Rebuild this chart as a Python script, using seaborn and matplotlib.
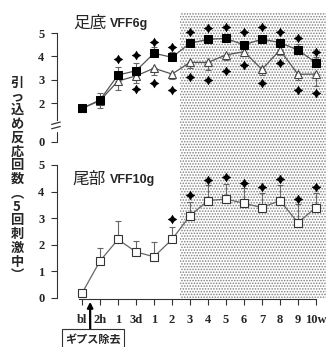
import numpy as np
import pandas as pd
import matplotlib
matplotlib.use("Agg")
import matplotlib.pyplot as plt
from matplotlib.path import Path
import seaborn as sns

# ---------------- data ----------------
labels = ['bl', '2h', '1', '3d', '1', '2', '3', '4', '5', '6', '7', '8', '9', '10w']

# upper panel (hind paw, VFF6g)
paw_sq = [1.77, 2.13, 3.20, 3.38, 4.13, 3.96, 4.56, 4.73, 4.77, 4.49, 4.74, 4.59, 4.27, 3.73]
paw_sq_err = [0.0, 0.28, 0.36, 0.32, 0.28, 0.24, 0.20, 0.15, 0.12, 0.15, 0.15, 0.15, 0.26, 0.25]
paw_tri = [1.77, 2.10, 2.94, 3.16, 3.49, 3.24, 3.74, 3.74, 4.06, 4.20, 3.44, 4.27, 3.23, 3.24]
paw_tri_err = [0.0, 0.30, 0.38, 0.31, 0.29, 0.21, 0.26, 0.33, 0.21, 0.20, 0.25, 0.20, 0.25, 0.50]
paw_star_up = [np.nan, np.nan, 3.89, 4.06, 4.63, 4.41, 5.06, 5.20, 5.27, 5.06, 5.24, 5.06, 4.77, 4.20]
paw_star_dn = [np.nan, np.nan, np.nan, 2.60, 2.87, 2.56, 3.13, 2.99, 3.38, 3.63, 2.84, 3.70, 2.56, 2.44]

# lower panel (tail, VFF10g)
tail = [0.18, 1.39, 2.20, 1.73, 1.55, 2.20, 3.09, 3.66, 3.72, 3.56, 3.40, 3.66, 2.83, 3.40]
tail_err = [0.0, 0.48, 0.70, 0.43, 0.57, 0.46, 0.51, 0.59, 0.57, 0.56, 0.54, 0.59, 0.70, 0.54]
tail_star = [np.nan, np.nan, np.nan, np.nan, np.nan, 2.96, 3.87, 4.44, 4.54, 4.33, 4.18, 4.46, 3.71, 4.18]

shade_start = 5.45          # start of shaded period (between "2" and "3")
cast_removal = 0.45         # arrow position (between bl and 2h)

title_top = ('足底', 'VFF6g')
title_bot = ('尾部', 'VFF10g')
ylabel = '引っ込め反応回数︵5回刺激中︶'
note = 'ギプス除去'

pos = np.arange(len(labels))
df_top = pd.DataFrame({'pos': pos, 'sq': paw_sq, 'sq_err': paw_sq_err,
                       'tri': paw_tri, 'tri_err': paw_tri_err,
                       'up': paw_star_up, 'dn': paw_star_dn})
df_bot = pd.DataFrame({'pos': pos, 'v': tail, 'err': tail_err, 'star': tail_star})

# ---------------- style ----------------
sns.set_theme(style='white')
plt.rcParams['font.family'] = ['Noto Sans CJK JP', 'DejaVu Sans']
plt.rcParams['hatch.linewidth'] = 0.75

W, H = 326, 347
fig = plt.figure(figsize=(W / 100, H / 100), dpi=100)


def rect(l, t, r, b):
    return [l / W, 1 - b / H, (r - l) / W, (b - t) / H]


ax1 = fig.add_axes(rect(57, 12, 326, 158))
ax2 = fig.add_axes(rect(57, 158, 326, 299))
XLIM = (-1.39, 13.56)

# broken scale for the upper panel (compress region below 1.5)
K, B = 0.78, 1.5


def fwd(y):
    y = np.asarray(y, float)
    return np.where(y >= B, y, B - (B - y) * K)


def inv(t):
    t = np.asarray(t, float)
    return np.where(t >= B, t, B - (B - t) / K)


ax1.set_yscale('function', functions=(fwd, inv))
ax1.set_ylim(float(inv(-0.357)), 5.9)
ax2.set_ylim(-0.038, 5.26)

# fat four-pointed star marker
ang = np.deg2rad(np.arange(0, 360, 45) + 90)
rad = np.where(np.arange(8) % 2 == 0, 1.0, 0.55)
star_marker = Path(np.column_stack([rad * np.cos(ang), rad * np.sin(ang)]).tolist() + [[0, 1]],
                   closed=True)
star_kw = dict(marker=star_marker, s=48, color='black', linewidth=0, zorder=6)

line_col = '#555555'
err_kw = dict(fmt='none', ecolor='#666666', elinewidth=0.8, capsize=2.5, capthick=0.8)

for ax in (ax1, ax2):
    ax.set_xlim(*XLIM)
    ax.axvspan(shade_start, XLIM[1], facecolor='white', edgecolor='#808080',
               hatch='......', linewidth=0, zorder=0)
    ax.patch.set_alpha(0)

# ----- upper panel -----
zeros = np.zeros(len(pos))
ax1.errorbar(df_top['pos'], df_top['tri'], yerr=[df_top['tri_err'], zeros], zorder=2, **err_kw)
sns.lineplot(data=df_top, x='pos', y='tri', ax=ax1, color=line_col, linewidth=0.9,
             marker='^', markersize=6.3, markerfacecolor='white',
             markeredgecolor='#444444', markeredgewidth=0.8, zorder=3)
ax1.errorbar(df_top['pos'], df_top['sq'], yerr=[zeros, df_top['sq_err']], zorder=4, **err_kw)
sns.lineplot(data=df_top, x='pos', y='sq', ax=ax1, color=line_col, linewidth=0.9,
             marker='s', markersize=5.8, markerfacecolor='black',
             markeredgecolor='black', zorder=5)
sns.scatterplot(data=df_top, x='pos', y='up', ax=ax1, **star_kw)
sns.scatterplot(data=df_top, x='pos', y='dn', ax=ax1, **star_kw)

# ----- lower panel -----
ax2.errorbar(df_bot['pos'], df_bot['v'], yerr=[zeros, df_bot['err']], zorder=2, **err_kw)
sns.lineplot(data=df_bot, x='pos', y='v', ax=ax2, color='#666666', linewidth=0.9,
             marker='s', markersize=6.2, markerfacecolor='white',
             markeredgecolor='#333333', markeredgewidth=0.8, zorder=3)
sns.scatterplot(data=df_bot, x='pos', y='star', ax=ax2, **star_kw)

# ----- axes styling -----
tick_font = dict(family='Liberation Serif', weight='bold', size=9)
for ax in (ax1, ax2):
    ax.set_xlabel('')
    ax.set_ylabel('')
    for s in ('top', 'right'):
        ax.spines[s].set_visible(False)
    ax.spines['left'].set_color('#333333')
    ax.spines['left'].set_linewidth(0.8)
    ax.tick_params(axis='y', direction='out', length=4, width=0.8, color='#333333',
                   pad=5, left=True)

ax1.spines['bottom'].set_visible(False)
ax1.set_xticks([])
ax1.set_yticks([0, 2, 3, 4, 5])
ax1.set_yticklabels(['0', '2', '3', '4', '5'], fontdict=tick_font)
ax1.spines['left'].set_bounds(1.2, 5)
# lower stub of broken axis and break marks
bt = matplotlib.transforms.blended_transform_factory(ax1.transAxes, ax1.transData)
ax1.plot([0, 0], [0, 0.55], transform=bt, color='#333333', lw=0.8, clip_on=False)
for yy in (0.208, 0.238):
    ax1.plot([-0.02, 0.012], [yy - 0.008, yy + 0.008], transform=ax1.transAxes,
             color='#333333', lw=0.9, clip_on=False)

ax2.set_yticks([0, 1, 2, 3, 4, 5])
ax2.set_yticklabels(['0', '1', '2', '3', '4', '5'], fontdict=tick_font)
ax2.spines['left'].set_bounds(0, 5)
ax2.spines['bottom'].set_bounds(-0.15, 13)
ax2.spines['bottom'].set_color('#333333')
ax2.spines['bottom'].set_linewidth(0.8)
ax2.set_xticks(pos)
ax2.set_xticklabels(labels, fontdict=tick_font)
ax2.tick_params(axis='x', direction='out', length=4, width=0.8, color='#333333',
                pad=7, bottom=True)

# titles
ax1.text(0.059, 0.925, title_top[0], transform=ax1.transAxes, fontsize=12, va='center')
ax1.text(0.195, 0.918, title_top[1], transform=ax1.transAxes, fontsize=9,
         va='center', family='Liberation Sans', weight='bold')
ax2.text(0.059, 0.851, title_bot[0], transform=ax2.transAxes, fontsize=12, va='center')
ax2.text(0.195, 0.845, title_bot[1], transform=ax2.transAxes, fontsize=9,
         va='center', family='Liberation Sans', weight='bold')

# vertical y label
fig.text(17 / W, 1 - 179 / H, '\n'.join(ylabel), ha='center', va='center',
         fontsize=9.5, linespacing=0.98, weight='bold')

# cast removal annotation
ax2.annotate(note, xy=(cast_removal, -0.02), xycoords=('data', 'axes fraction'),
             xytext=(0.61, -0.285), textcoords=('data', 'axes fraction'),
             ha='center', va='center', fontsize=8, weight='bold',
             bbox=dict(boxstyle='square,pad=0.3', fc='white', ec='#333333', lw=0.8),
             arrowprops=dict(arrowstyle='-|>', color='black', lw=1.6, relpos=(0.45, 1.0),
                             shrinkA=0, shrinkB=0, mutation_scale=8),
             annotation_clip=False)

fig.savefig('out.png', dpi=100)
